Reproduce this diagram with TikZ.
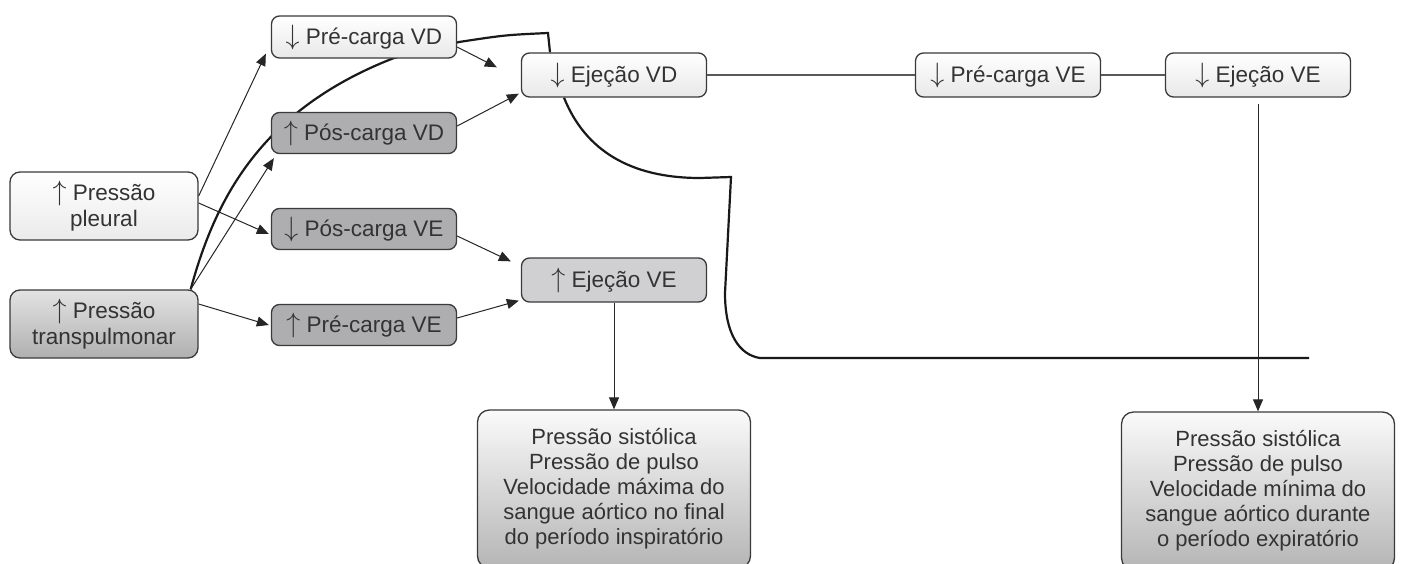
\documentclass[tikz,border=0pt]{standalone}
\usepackage{fontspec}
\setmainfont{Liberation Sans}
\usepackage{graphicx}
\usepackage{tikz}
\usetikzlibrary{positioning,arrows.meta,backgrounds,calc}

\definecolor{boxline}{HTML}{3A3A3A}
\definecolor{boxtext}{HTML}{333333}
\definecolor{boxdark}{HTML}{AEAEB0}
\definecolor{boxmid}{HTML}{D0D0D2}

\newcommand{\incr}{\scalebox{1.35}{$\uparrow$}\ }
\newcommand{\decr}{\scalebox{1.35}{$\downarrow$}\ }

\tikzset{
  base/.style={draw=boxline, line width=1.3pt, rounded corners=8pt, align=center,
    text=boxtext, inner sep=0pt, font=\fontsize{22.5}{26}\selectfont},
  lightbox/.style={base, minimum width=185pt, minimum height=42pt, top color=white, bottom color=gray!18},
  darkbox/.style={base, minimum width=185pt, minimum height=41pt, fill=boxdark},
  midbox/.style={base, minimum width=185pt, minimum height=44pt, fill=boxmid},
  sidebox/.style={base, minimum width=188pt, minimum height=68pt, rounded corners=10pt},
  resultbox/.style={base, minimum width=273pt, minimum height=158pt, rounded corners=12pt,
    font=\fontsize{22}{25}\selectfont, top color=gray!4, bottom color=gray!58},
  arr/.style={-{Triangle[length=12pt,width=10pt]}, line width=1pt, draw=black!85},
  brace/.style={line width=2.2pt, draw=black!90},
  link/.style={line width=2pt, draw=black!65}
}

\begin{document}
\begin{tikzpicture}[x=1pt, y=-1pt, node distance=96pt]
\useasboundingbox (0,0) rectangle (1401,563);

% Nodes
\node[sidebox, top color=white, bottom color=gray!16] (pleural) at (104,206) {\incr Pressão\\pleural};
\node[sidebox, top color=gray!22, bottom color=gray!62, below of=pleural, node distance=118pt] (transp) {\incr Pressão\\transpulmonar};

\node[lightbox] (precvd) at (364,37) {\decr Pré-carga VD};
\node[darkbox, below of=precvd] (poscvd) {\incr Pós-carga VD};
\node[darkbox, below of=poscvd] (poscve) {\decr Pós-carga VE};
\node[darkbox, below of=poscve] (precve) {\incr Pré-carga VE};

\node[lightbox, minimum height=44pt] (ejvd) at (614,75) {\decr Ejeção VD};
\node[midbox, below of=ejvd, node distance=205pt] (ejve) {\incr Ejeção VE};

\node[lightbox, minimum height=44pt, right of=ejvd, node distance=394pt] (precveb) {\decr Pré-carga VE};
\node[lightbox, minimum height=44pt, right of=precveb, node distance=250pt] (ejveb) {\decr Ejeção VE};

\node[resultbox] (insp) at (614,489) {Pressão sistólica\\Pressão de pulso\\Velocidade máxima do\\sangue aórtico no final\\do período inspiratório};
\node[resultbox] (exp) at (1258,491) {Pressão sistólica\\Pressão de pulso\\Velocidade mínima do\\sangue aórtico durante\\o período expiratório};

% Arrows
\draw[arr] ([yshift=10pt]pleural.east) -- ([xshift=-5pt,yshift=5pt]precvd.south west);
\draw[arr] ([yshift=3pt]pleural.east) -- ([xshift=-2pt,yshift=-5pt]poscve.west);
\draw[arr] ([xshift=-8pt]transp.north east) -- ([xshift=3pt,yshift=-4pt]poscvd.south west);
\draw[arr] ([yshift=20pt]transp.east) -- ([xshift=-2pt]precve.west);

\draw[arr] ([yshift=-10pt]precvd.east) -- ([xshift=-24pt,yshift=-15pt]ejvd.north west);
\draw[arr] ([yshift=7pt]poscvd.east) -- ([xshift=-2pt,yshift=4pt]ejvd.south west);
\draw[arr] ([yshift=-7pt]poscve.east) -- ([xshift=-10pt,yshift=-4pt]ejve.north west);
\draw[arr] ([yshift=7pt]precve.east) -- ([xshift=-2pt,yshift=2pt]ejve.south west);

\draw[arr] (ejve.south) -- (insp.north);
\draw[arr] ([yshift=-6pt]ejveb.south) -- (exp.north);

% Top row
\draw[link] (ejvd.east) -- (precveb.west);
\draw[link] (precveb.east) -- (ejveb.west);

% Brackets behind the boxes
\coordinate (bend) at (1309,358);
\begin{scope}[on background layer]
\fill[white] (0,0) rectangle (1401,563);
\draw[brace] ([xshift=-8pt]transp.north east) .. controls (215,200) and (260,110) .. (394,58)
  -- (459,42) .. controls (505,35) .. (548,33) -- ([xshift=-64pt]ejvd.north);
\draw[brace] ([xshift=-50pt]ejvd.south) .. controls (585,150) and (630,178) .. (700,178)
  -- (731,177) -- (725,293) .. controls (725,335) and (740,355) .. (760,358) -- (bend);
\end{scope}

\end{tikzpicture}
\end{document}
